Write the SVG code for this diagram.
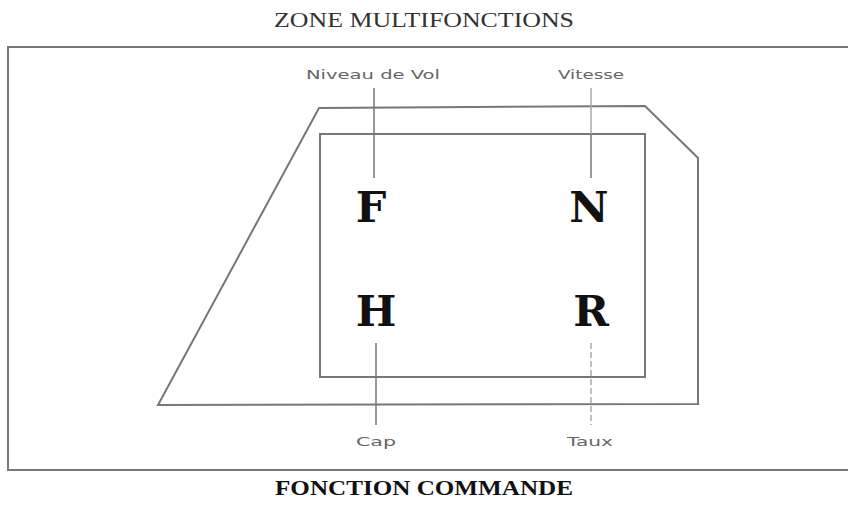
<svg xmlns="http://www.w3.org/2000/svg" width="848" height="508" viewBox="0 0 848 508">
<style>
.title{font-family:"Liberation Serif","Times New Roman",serif;font-size:22px;fill:#333;text-anchor:middle}
.btitle{font-family:"Liberation Serif","Times New Roman",serif;font-size:22px;font-weight:bold;fill:#111;text-anchor:middle}
.shape{fill:none;stroke:#777;stroke-width:2}
.lbl{font-family:"DejaVu Sans","Liberation Sans",sans-serif;font-size:13px;fill:#666;text-anchor:middle}
.key{font-family:"DejaVu Serif","Liberation Serif",serif;font-size:43px;font-weight:bold;fill:#111;text-anchor:middle}
.ln{stroke:#777;stroke-width:1.5;fill:none}
.lnf{stroke:#aaa;stroke-width:1.5;fill:none}
</style>
<rect width="848" height="508" fill="#fff"/>
<text class="title" x="424" y="27" textLength="300" lengthAdjust="spacingAndGlyphs">ZONE MULTIFONCTIONS</text>
<rect class="shape" x="8" y="47" width="850" height="423"/>
<polygon class="shape" points="319,108 645,106 698,158 698,404 158,405"/>
<rect class="shape" x="320" y="134" width="325" height="243"/>
<g id="connectors">
<line class="ln" x1="374" y1="88" x2="374" y2="178"/>
<line class="lnf" x1="591" y1="88" x2="591" y2="134"/>
<line class="ln" x1="591" y1="134" x2="591" y2="178"/>
<line class="ln" x1="376" y1="343" x2="376" y2="425"/>
<line class="lnf" x1="591" y1="343" x2="591" y2="425" stroke-dasharray="6 3"/>
</g>
<g id="F"><text class="key" x="371" y="222">F</text></g>
<g id="N"><text class="key" x="589" y="222">N</text></g>
<g id="H"><text class="key" x="376" y="326">H</text></g>
<g id="R"><text class="key" x="591" y="326">R</text></g>
<g id="lbl-niveau"><text class="lbl" x="373" y="79" textLength="134" lengthAdjust="spacingAndGlyphs">Niveau de Vol</text></g>
<g id="lbl-vitesse"><text class="lbl" x="591" y="79" textLength="66" lengthAdjust="spacingAndGlyphs">Vitesse</text></g>
<g id="lbl-cap"><text class="lbl" x="376" y="446" font-size="15" textLength="40" lengthAdjust="spacingAndGlyphs">Cap</text></g>
<g id="lbl-taux"><text class="lbl" x="590" y="446" font-size="15" textLength="46" lengthAdjust="spacingAndGlyphs">Taux</text></g>
<text class="btitle" x="424" y="495" textLength="298" lengthAdjust="spacingAndGlyphs">FONCTION COMMANDE</text>
</svg>
